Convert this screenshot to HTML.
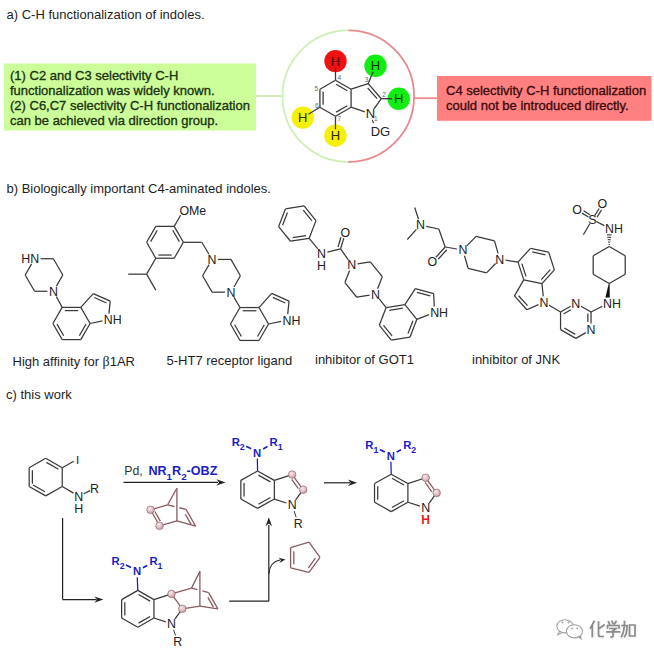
<!DOCTYPE html>
<html><head><meta charset="utf-8"><style>
html,body{margin:0;padding:0;background:#fff;width:654px;height:654px;overflow:hidden}
svg{display:block}
text{font-family:"Liberation Sans", sans-serif}
</style></head><body>
<svg width="654" height="654" viewBox="0 0 654 654">
<defs><radialGradient id="bg" cx="0.4" cy="0.35" r="0.7"><stop offset="0" stop-color="#f8eaec"/><stop offset="0.6" stop-color="#dcbcc0"/><stop offset="1" stop-color="#b89098"/></radialGradient></defs>
<rect width="654" height="654" fill="#fff"/>
<text x="6.50" y="18.80" font-size="13" fill="#1e1e1e" text-anchor="start" font-weight="normal" >a) C-H functionalization of indoles.</text>
<text x="6.50" y="192.50" font-size="13" fill="#1e1e1e" text-anchor="start" font-weight="normal" >b) Biologically important C4-aminated indoles.</text>
<text x="6.00" y="399.00" font-size="13" fill="#1e1e1e" text-anchor="start" font-weight="normal" >c) this work</text>
<rect x="4" y="63.5" width="252" height="67" fill="#ccff99"/>
<text x="10.00" y="80.00" font-size="13" fill="#1d3312" text-anchor="start" font-weight="normal" stroke="#1d3312" stroke-width="0.35">(1) C2 and C3 selectivity C-H</text>
<text x="10.00" y="95.00" font-size="13" fill="#1d3312" text-anchor="start" font-weight="normal" stroke="#1d3312" stroke-width="0.35">functionalization was widely known.</text>
<text x="10.00" y="110.00" font-size="13" fill="#1d3312" text-anchor="start" font-weight="normal" stroke="#1d3312" stroke-width="0.35">(2) C6,C7 selectivity C-H functionalization</text>
<text x="10.00" y="125.00" font-size="13" fill="#1d3312" text-anchor="start" font-weight="normal" stroke="#1d3312" stroke-width="0.35">can be achieved via direction group.</text>
<rect x="437" y="76" width="214.5" height="44.8" fill="#ff8080"/>
<text x="446.00" y="95.00" font-size="13" fill="#3d0c0c" text-anchor="start" font-weight="normal" stroke="#3d0c0c" stroke-width="0.35">C4 selectivity C-H functionalization</text>
<text x="446.00" y="110.00" font-size="13" fill="#3d0c0c" text-anchor="start" font-weight="normal" stroke="#3d0c0c" stroke-width="0.35">could not be introduced directly.</text>
<line x1="256.00" y1="96.00" x2="282.50" y2="96.00" stroke="#cdeeb4" stroke-width="1.8" />
<line x1="413.50" y1="98.20" x2="437.00" y2="98.20" stroke="#ec8a8c" stroke-width="1.8" />
<path d="M348.3,30.400000000000006 A65.8,65.8 0 0 0 348.3,162.0" fill="none" stroke="#cdeeb4" stroke-width="1.7"/>
<path d="M348.3,30.400000000000006 A65.8,65.8 0 0 1 348.3,162.0" fill="none" stroke="#e88a8e" stroke-width="1.8"/>
<line x1="335.50" y1="80.20" x2="351.09" y2="89.20" stroke="#3c3c3c" stroke-width="1.3" />
<line x1="351.09" y1="89.20" x2="351.09" y2="107.20" stroke="#3c3c3c" stroke-width="1.3" />
<line x1="351.09" y1="107.20" x2="335.50" y2="116.20" stroke="#3c3c3c" stroke-width="1.3" />
<line x1="335.50" y1="116.20" x2="319.91" y2="107.20" stroke="#3c3c3c" stroke-width="1.3" />
<line x1="319.91" y1="107.20" x2="319.91" y2="89.20" stroke="#3c3c3c" stroke-width="1.3" />
<line x1="319.91" y1="89.20" x2="335.50" y2="80.20" stroke="#3c3c3c" stroke-width="1.3" />
<line x1="336.08" y1="84.23" x2="347.31" y2="90.71" stroke="#3c3c3c" stroke-width="1.3" />
<line x1="323.11" y1="91.72" x2="323.11" y2="104.68" stroke="#3c3c3c" stroke-width="1.3" />
<line x1="336.08" y1="112.17" x2="347.31" y2="105.69" stroke="#3c3c3c" stroke-width="1.3" />
<line x1="351.09" y1="89.20" x2="368.21" y2="83.64" stroke="#3c3c3c" stroke-width="1.3" />
<line x1="368.21" y1="83.64" x2="381.29" y2="98.70" stroke="#3c3c3c" stroke-width="1.3" />
<line x1="367.62" y1="87.84" x2="377.04" y2="98.69" stroke="#3c3c3c" stroke-width="1.3" />
<line x1="381.29" y1="98.70" x2="374.00" y2="108.88" stroke="#3c3c3c" stroke-width="1.3" />
<line x1="351.09" y1="107.20" x2="364.82" y2="111.84" stroke="#3c3c3c" stroke-width="1.3" />
<circle cx="335.5" cy="61.1" r="11.2" fill="#f01212"/>
<line x1="335.50" y1="80.20" x2="335.50" y2="67.60" stroke="#3c3c3c" stroke-width="1.3" />
<text x="335.50" y="65.70" font-size="13" fill="#4a0000" text-anchor="middle" font-weight="normal" >H</text>
<circle cx="375.5" cy="65.8" r="11.2" fill="#12ee12"/>
<line x1="368.21" y1="83.64" x2="373.04" y2="71.82" stroke="#3c3c3c" stroke-width="1.3" />
<text x="375.50" y="70.40" font-size="13" fill="#063006" text-anchor="middle" font-weight="normal" >H</text>
<circle cx="398.7" cy="98.8" r="11.2" fill="#12ee12"/>
<line x1="381.29" y1="98.70" x2="392.20" y2="98.76" stroke="#3c3c3c" stroke-width="1.3" />
<text x="398.70" y="103.40" font-size="13" fill="#063006" text-anchor="middle" font-weight="normal" >H</text>
<circle cx="302.8" cy="117.6" r="11.2" fill="#f4f00a"/>
<line x1="319.91" y1="107.20" x2="308.35" y2="114.22" stroke="#3c3c3c" stroke-width="1.3" />
<text x="302.80" y="122.20" font-size="13" fill="#2a2a00" text-anchor="middle" font-weight="normal" >H</text>
<circle cx="335.4" cy="135.7" r="11.2" fill="#f4f00a"/>
<line x1="335.50" y1="116.20" x2="335.43" y2="129.20" stroke="#3c3c3c" stroke-width="1.3" />
<text x="335.40" y="140.30" font-size="13" fill="#2a2a00" text-anchor="middle" font-weight="normal" >H</text>
<text x="370.51" y="118.36" font-size="13" fill="#222" text-anchor="middle" font-weight="normal" >N</text>
<line x1="372.20" y1="120.00" x2="373.70" y2="123.20" stroke="#3c3c3c" stroke-width="1.1" />
<text x="380.40" y="136.40" font-size="13" fill="#222" text-anchor="middle" font-weight="normal" >DG</text>
<text x="339.20" y="79.60" font-size="6.5" fill="#666" text-anchor="middle" font-weight="normal" >4</text>
<text x="316.30" y="90.60" font-size="6.5" fill="#666" text-anchor="middle" font-weight="normal" >5</text>
<text x="316.70" y="107.60" font-size="6.5" fill="#666" text-anchor="middle" font-weight="normal" >6</text>
<text x="339.20" y="121.40" font-size="6.5" fill="#666" text-anchor="middle" font-weight="normal" >7</text>
<text x="366.50" y="82.30" font-size="6.5" fill="#666" text-anchor="middle" font-weight="normal" >3</text>
<text x="384.00" y="96.80" font-size="6.5" fill="#666" text-anchor="middle" font-weight="normal" >2</text>
<text x="375.90" y="120.50" font-size="6.5" fill="#666" text-anchor="middle" font-weight="normal" >1</text>
<line x1="62.20" y1="307.39" x2="80.80" y2="307.39" stroke="#3a3a3a" stroke-width="1.25" />
<line x1="80.80" y1="307.39" x2="90.10" y2="323.50" stroke="#3a3a3a" stroke-width="1.25" />
<line x1="90.10" y1="323.50" x2="80.80" y2="339.61" stroke="#3a3a3a" stroke-width="1.25" />
<line x1="80.80" y1="339.61" x2="62.20" y2="339.61" stroke="#3a3a3a" stroke-width="1.25" />
<line x1="62.20" y1="339.61" x2="52.90" y2="323.50" stroke="#3a3a3a" stroke-width="1.25" />
<line x1="52.90" y1="323.50" x2="62.20" y2="307.39" stroke="#3a3a3a" stroke-width="1.25" />
<line x1="64.80" y1="310.59" x2="78.20" y2="310.59" stroke="#3a3a3a" stroke-width="1.25" />
<line x1="56.97" y1="324.16" x2="63.67" y2="335.75" stroke="#3a3a3a" stroke-width="1.25" />
<line x1="79.33" y1="335.75" x2="86.03" y2="324.16" stroke="#3a3a3a" stroke-width="1.25" />
<line x1="80.80" y1="307.39" x2="93.25" y2="293.57" stroke="#3a3a3a" stroke-width="1.25" />
<line x1="93.25" y1="293.57" x2="110.24" y2="301.13" stroke="#3a3a3a" stroke-width="1.25" />
<line x1="94.32" y1="297.55" x2="106.56" y2="303.00" stroke="#3a3a3a" stroke-width="1.25" />
<line x1="110.24" y1="301.13" x2="108.92" y2="313.67" stroke="#3a3a3a" stroke-width="1.25" />
<line x1="90.10" y1="323.50" x2="102.42" y2="320.88" stroke="#3a3a3a" stroke-width="1.25" />
<text x="103.82" y="324.10" font-size="12.4" fill="#222" text-anchor="start" font-weight="normal" >N</text>
<text x="112.77" y="324.10" font-size="12.4" fill="#222" text-anchor="start" font-weight="normal" >H</text>
<line x1="62.80" y1="275.00" x2="56.40" y2="286.09" stroke="#3a3a3a" stroke-width="1.25" />
<line x1="47.40" y1="291.28" x2="34.60" y2="291.28" stroke="#3a3a3a" stroke-width="1.25" />
<line x1="34.60" y1="291.28" x2="25.20" y2="275.00" stroke="#3a3a3a" stroke-width="1.25" />
<line x1="25.20" y1="275.00" x2="31.60" y2="263.91" stroke="#3a3a3a" stroke-width="1.25" />
<line x1="40.60" y1="258.72" x2="53.40" y2="258.72" stroke="#3a3a3a" stroke-width="1.25" />
<line x1="53.40" y1="258.72" x2="62.80" y2="275.00" stroke="#3a3a3a" stroke-width="1.25" />
<text x="53.40" y="295.75" font-size="12.4" fill="#222" text-anchor="middle" font-weight="normal" >N</text>
<text x="39.08" y="263.18" font-size="12.4" fill="#222" text-anchor="end" font-weight="normal" >N</text>
<text x="30.12" y="263.18" font-size="12.4" fill="#222" text-anchor="end" font-weight="normal" >H</text>
<line x1="56.28" y1="296.55" x2="62.20" y2="307.39" stroke="#3a3a3a" stroke-width="1.25" />
<text x="12.50" y="366.30" font-size="13" fill="#1e1e1e" text-anchor="start" font-weight="normal" >High affinity for <tspan font-family="Liberation Serif" font-size="14">β</tspan>1AR</text>
<line x1="183.40" y1="242.30" x2="174.20" y2="258.23" stroke="#3a3a3a" stroke-width="1.25" />
<line x1="174.20" y1="258.23" x2="155.80" y2="258.23" stroke="#3a3a3a" stroke-width="1.25" />
<line x1="155.80" y1="258.23" x2="146.60" y2="242.30" stroke="#3a3a3a" stroke-width="1.25" />
<line x1="146.60" y1="242.30" x2="155.80" y2="226.37" stroke="#3a3a3a" stroke-width="1.25" />
<line x1="155.80" y1="226.37" x2="174.20" y2="226.37" stroke="#3a3a3a" stroke-width="1.25" />
<line x1="174.20" y1="226.37" x2="183.40" y2="242.30" stroke="#3a3a3a" stroke-width="1.25" />
<line x1="150.66" y1="241.67" x2="157.28" y2="230.20" stroke="#3a3a3a" stroke-width="1.25" />
<line x1="172.72" y1="230.20" x2="179.34" y2="241.67" stroke="#3a3a3a" stroke-width="1.25" />
<line x1="171.62" y1="255.03" x2="158.38" y2="255.03" stroke="#3a3a3a" stroke-width="1.25" />
<line x1="174.20" y1="226.37" x2="180.65" y2="215.19" stroke="#3a3a3a" stroke-width="1.25" />
<text x="179.40" y="215.43" font-size="12.4" fill="#222" text-anchor="start" font-weight="normal" >OMe</text>
<line x1="183.40" y1="242.30" x2="201.80" y2="242.30" stroke="#3a3a3a" stroke-width="1.25" />
<line x1="201.80" y1="242.30" x2="208.97" y2="254.28" stroke="#3a3a3a" stroke-width="1.25" />
<line x1="240.40" y1="275.80" x2="233.95" y2="286.97" stroke="#3a3a3a" stroke-width="1.25" />
<line x1="224.95" y1="292.17" x2="212.05" y2="292.17" stroke="#3a3a3a" stroke-width="1.25" />
<line x1="212.05" y1="292.17" x2="202.60" y2="275.80" stroke="#3a3a3a" stroke-width="1.25" />
<line x1="202.60" y1="275.80" x2="209.05" y2="264.63" stroke="#3a3a3a" stroke-width="1.25" />
<line x1="218.05" y1="259.43" x2="230.95" y2="259.43" stroke="#3a3a3a" stroke-width="1.25" />
<line x1="230.95" y1="259.43" x2="240.40" y2="275.80" stroke="#3a3a3a" stroke-width="1.25" />
<text x="212.05" y="263.90" font-size="12.4" fill="#222" text-anchor="middle" font-weight="normal" >N</text>
<text x="230.95" y="296.63" font-size="12.4" fill="#222" text-anchor="middle" font-weight="normal" >N</text>
<line x1="240.00" y1="307.55" x2="259.00" y2="307.55" stroke="#3a3a3a" stroke-width="1.25" />
<line x1="259.00" y1="307.55" x2="268.50" y2="324.00" stroke="#3a3a3a" stroke-width="1.25" />
<line x1="268.50" y1="324.00" x2="259.00" y2="340.45" stroke="#3a3a3a" stroke-width="1.25" />
<line x1="259.00" y1="340.45" x2="240.00" y2="340.45" stroke="#3a3a3a" stroke-width="1.25" />
<line x1="240.00" y1="340.45" x2="230.50" y2="324.00" stroke="#3a3a3a" stroke-width="1.25" />
<line x1="230.50" y1="324.00" x2="240.00" y2="307.55" stroke="#3a3a3a" stroke-width="1.25" />
<line x1="242.66" y1="310.75" x2="256.34" y2="310.75" stroke="#3a3a3a" stroke-width="1.25" />
<line x1="234.60" y1="324.70" x2="241.44" y2="336.55" stroke="#3a3a3a" stroke-width="1.25" />
<line x1="257.56" y1="336.55" x2="264.40" y2="324.70" stroke="#3a3a3a" stroke-width="1.25" />
<line x1="259.00" y1="307.55" x2="271.71" y2="293.43" stroke="#3a3a3a" stroke-width="1.25" />
<line x1="271.71" y1="293.43" x2="289.07" y2="301.15" stroke="#3a3a3a" stroke-width="1.25" />
<line x1="272.84" y1="297.43" x2="285.34" y2="303.00" stroke="#3a3a3a" stroke-width="1.25" />
<line x1="289.07" y1="301.15" x2="287.71" y2="314.08" stroke="#3a3a3a" stroke-width="1.25" />
<line x1="268.50" y1="324.00" x2="281.22" y2="321.30" stroke="#3a3a3a" stroke-width="1.25" />
<text x="282.61" y="324.51" font-size="12.4" fill="#222" text-anchor="start" font-weight="normal" >N</text>
<text x="291.56" y="324.51" font-size="12.4" fill="#222" text-anchor="start" font-weight="normal" >H</text>
<line x1="233.99" y1="297.34" x2="240.00" y2="307.55" stroke="#3a3a3a" stroke-width="1.25" />
<line x1="155.80" y1="258.23" x2="146.60" y2="274.17" stroke="#3a3a3a" stroke-width="1.25" />
<line x1="146.60" y1="274.17" x2="128.20" y2="274.17" stroke="#3a3a3a" stroke-width="1.25" />
<line x1="146.60" y1="274.17" x2="155.80" y2="290.10" stroke="#3a3a3a" stroke-width="1.25" />
<text x="166.50" y="364.80" font-size="13" fill="#1e1e1e" text-anchor="start" font-weight="normal" >5-HT7 receptor ligand</text>
<line x1="315.97" y1="220.64" x2="309.19" y2="238.29" stroke="#3a3a3a" stroke-width="1.25" />
<line x1="309.19" y1="238.29" x2="290.53" y2="241.24" stroke="#3a3a3a" stroke-width="1.25" />
<line x1="290.53" y1="241.24" x2="278.63" y2="226.56" stroke="#3a3a3a" stroke-width="1.25" />
<line x1="278.63" y1="226.56" x2="285.41" y2="208.91" stroke="#3a3a3a" stroke-width="1.25" />
<line x1="285.41" y1="208.91" x2="304.07" y2="205.96" stroke="#3a3a3a" stroke-width="1.25" />
<line x1="304.07" y1="205.96" x2="315.97" y2="220.64" stroke="#3a3a3a" stroke-width="1.25" />
<line x1="282.57" y1="225.23" x2="287.45" y2="212.53" stroke="#3a3a3a" stroke-width="1.25" />
<line x1="303.25" y1="210.03" x2="311.82" y2="220.60" stroke="#3a3a3a" stroke-width="1.25" />
<line x1="306.08" y1="235.54" x2="292.64" y2="237.67" stroke="#3a3a3a" stroke-width="1.25" />
<line x1="309.19" y1="238.29" x2="317.82" y2="248.94" stroke="#3a3a3a" stroke-width="1.25" />
<text x="321.60" y="258.06" font-size="12.4" fill="#222" text-anchor="middle" font-weight="normal" >N</text>
<text x="321.60" y="269.56" font-size="12.4" fill="#222" text-anchor="middle" font-weight="normal" >H</text>
<line x1="327.42" y1="252.13" x2="340.60" y2="248.80" stroke="#3a3a3a" stroke-width="1.25" />
<line x1="340.60" y1="248.80" x2="343.82" y2="238.07" stroke="#3a3a3a" stroke-width="1.25" />
<line x1="338.01" y1="246.98" x2="340.95" y2="237.21" stroke="#3a3a3a" stroke-width="1.25" />
<text x="345.40" y="237.26" font-size="12.4" fill="#222" text-anchor="middle" font-weight="normal" >O</text>
<line x1="340.60" y1="248.80" x2="348.30" y2="259.97" stroke="#3a3a3a" stroke-width="1.25" />
<line x1="382.27" y1="276.64" x2="377.64" y2="288.69" stroke="#3a3a3a" stroke-width="1.25" />
<line x1="369.57" y1="295.23" x2="356.83" y2="297.24" stroke="#3a3a3a" stroke-width="1.25" />
<line x1="356.83" y1="297.24" x2="344.93" y2="282.56" stroke="#3a3a3a" stroke-width="1.25" />
<line x1="344.93" y1="282.56" x2="349.56" y2="270.51" stroke="#3a3a3a" stroke-width="1.25" />
<line x1="357.63" y1="263.97" x2="370.37" y2="261.96" stroke="#3a3a3a" stroke-width="1.25" />
<line x1="370.37" y1="261.96" x2="382.27" y2="276.64" stroke="#3a3a3a" stroke-width="1.25" />
<text x="351.71" y="269.38" font-size="12.4" fill="#222" text-anchor="middle" font-weight="normal" >N</text>
<text x="375.49" y="298.75" font-size="12.4" fill="#222" text-anchor="middle" font-weight="normal" >N</text>
<line x1="386.14" y1="307.53" x2="404.91" y2="304.56" stroke="#3a3a3a" stroke-width="1.25" />
<line x1="404.91" y1="304.56" x2="416.87" y2="319.33" stroke="#3a3a3a" stroke-width="1.25" />
<line x1="416.87" y1="319.33" x2="410.06" y2="337.07" stroke="#3a3a3a" stroke-width="1.25" />
<line x1="410.06" y1="337.07" x2="391.29" y2="340.04" stroke="#3a3a3a" stroke-width="1.25" />
<line x1="391.29" y1="340.04" x2="379.33" y2="325.27" stroke="#3a3a3a" stroke-width="1.25" />
<line x1="379.33" y1="325.27" x2="386.14" y2="307.53" stroke="#3a3a3a" stroke-width="1.25" />
<line x1="389.27" y1="310.28" x2="402.78" y2="308.14" stroke="#3a3a3a" stroke-width="1.25" />
<line x1="383.49" y1="325.33" x2="392.10" y2="335.96" stroke="#3a3a3a" stroke-width="1.25" />
<line x1="408.02" y1="333.44" x2="412.93" y2="320.66" stroke="#3a3a3a" stroke-width="1.25" />
<line x1="404.91" y1="304.56" x2="415.26" y2="288.63" stroke="#3a3a3a" stroke-width="1.25" />
<line x1="415.26" y1="288.63" x2="433.61" y2="293.54" stroke="#3a3a3a" stroke-width="1.25" />
<line x1="417.00" y1="292.41" x2="430.21" y2="295.95" stroke="#3a3a3a" stroke-width="1.25" />
<line x1="433.61" y1="293.54" x2="434.29" y2="306.53" stroke="#3a3a3a" stroke-width="1.25" />
<line x1="416.87" y1="319.33" x2="429.00" y2="314.67" stroke="#3a3a3a" stroke-width="1.25" />
<text x="430.13" y="316.98" font-size="12.4" fill="#222" text-anchor="start" font-weight="normal" >N</text>
<text x="439.08" y="316.98" font-size="12.4" fill="#222" text-anchor="start" font-weight="normal" >H</text>
<line x1="379.25" y1="298.96" x2="386.14" y2="307.53" stroke="#3a3a3a" stroke-width="1.25" />
<text x="315.00" y="364.40" font-size="13" fill="#1e1e1e" text-anchor="start" font-weight="normal" >inhibitor of GOT1</text>
<line x1="418.54" y1="219.29" x2="414.70" y2="207.50" stroke="#3a3a3a" stroke-width="1.25" />
<line x1="416.38" y1="229.45" x2="407.30" y2="239.50" stroke="#3a3a3a" stroke-width="1.25" />
<text x="420.40" y="229.46" font-size="12.4" fill="#222" text-anchor="middle" font-weight="normal" >N</text>
<line x1="426.26" y1="226.27" x2="438.80" y2="229.00" stroke="#3a3a3a" stroke-width="1.25" />
<line x1="438.80" y1="229.00" x2="445.20" y2="247.00" stroke="#3a3a3a" stroke-width="1.25" />
<line x1="445.20" y1="247.00" x2="435.98" y2="257.22" stroke="#3a3a3a" stroke-width="1.25" />
<line x1="446.76" y1="249.75" x2="438.21" y2="259.23" stroke="#3a3a3a" stroke-width="1.25" />
<text x="432.30" y="265.76" font-size="12.4" fill="#222" text-anchor="middle" font-weight="normal" >O</text>
<line x1="495.57" y1="263.51" x2="486.54" y2="272.86" stroke="#3a3a3a" stroke-width="1.25" />
<line x1="486.54" y1="272.86" x2="468.10" y2="268.27" stroke="#3a3a3a" stroke-width="1.25" />
<line x1="468.10" y1="268.27" x2="464.52" y2="255.77" stroke="#3a3a3a" stroke-width="1.25" />
<line x1="467.03" y1="245.69" x2="476.06" y2="236.34" stroke="#3a3a3a" stroke-width="1.25" />
<line x1="476.06" y1="236.34" x2="494.50" y2="240.93" stroke="#3a3a3a" stroke-width="1.25" />
<line x1="494.50" y1="240.93" x2="498.08" y2="253.43" stroke="#3a3a3a" stroke-width="1.25" />
<text x="499.74" y="263.66" font-size="12.4" fill="#222" text-anchor="middle" font-weight="normal" >N</text>
<text x="462.86" y="254.47" font-size="12.4" fill="#222" text-anchor="middle" font-weight="normal" >N</text>
<line x1="445.20" y1="247.00" x2="456.95" y2="249.00" stroke="#3a3a3a" stroke-width="1.25" />
<line x1="554.39" y1="269.87" x2="541.95" y2="283.69" stroke="#3a3a3a" stroke-width="1.25" />
<line x1="541.95" y1="283.69" x2="523.75" y2="279.82" stroke="#3a3a3a" stroke-width="1.25" />
<line x1="523.75" y1="279.82" x2="518.01" y2="262.13" stroke="#3a3a3a" stroke-width="1.25" />
<line x1="518.01" y1="262.13" x2="530.45" y2="248.31" stroke="#3a3a3a" stroke-width="1.25" />
<line x1="530.45" y1="248.31" x2="548.65" y2="252.18" stroke="#3a3a3a" stroke-width="1.25" />
<line x1="548.65" y1="252.18" x2="554.39" y2="269.87" stroke="#3a3a3a" stroke-width="1.25" />
<line x1="532.33" y1="251.98" x2="545.43" y2="254.77" stroke="#3a3a3a" stroke-width="1.25" />
<line x1="550.27" y1="269.66" x2="541.31" y2="279.61" stroke="#3a3a3a" stroke-width="1.25" />
<line x1="525.99" y1="276.36" x2="521.85" y2="263.62" stroke="#3a3a3a" stroke-width="1.25" />
<line x1="523.75" y1="279.82" x2="514.45" y2="295.93" stroke="#3a3a3a" stroke-width="1.25" />
<line x1="514.45" y1="295.93" x2="526.90" y2="309.75" stroke="#3a3a3a" stroke-width="1.25" />
<line x1="518.57" y1="295.72" x2="527.54" y2="305.68" stroke="#3a3a3a" stroke-width="1.25" />
<line x1="526.90" y1="309.75" x2="538.41" y2="304.63" stroke="#3a3a3a" stroke-width="1.25" />
<line x1="541.95" y1="283.69" x2="543.26" y2="296.22" stroke="#3a3a3a" stroke-width="1.25" />
<text x="543.89" y="306.65" font-size="12.4" fill="#222" text-anchor="middle" font-weight="normal" >N</text>
<line x1="505.66" y1="260.15" x2="518.01" y2="262.13" stroke="#3a3a3a" stroke-width="1.25" />
<line x1="581.00" y1="306.20" x2="591.04" y2="312.00" stroke="#3a3a3a" stroke-width="1.25" />
<line x1="591.04" y1="312.00" x2="591.04" y2="323.60" stroke="#3a3a3a" stroke-width="1.25" />
<line x1="585.85" y1="332.60" x2="575.80" y2="338.40" stroke="#3a3a3a" stroke-width="1.25" />
<line x1="575.80" y1="338.40" x2="560.56" y2="329.60" stroke="#3a3a3a" stroke-width="1.25" />
<line x1="560.56" y1="329.60" x2="560.56" y2="312.00" stroke="#3a3a3a" stroke-width="1.25" />
<line x1="560.56" y1="312.00" x2="570.60" y2="306.20" stroke="#3a3a3a" stroke-width="1.25" />
<line x1="563.56" y1="313.96" x2="570.80" y2="309.78" stroke="#3a3a3a" stroke-width="1.25" />
<line x1="587.84" y1="313.62" x2="587.84" y2="321.98" stroke="#3a3a3a" stroke-width="1.25" />
<line x1="575.27" y1="334.40" x2="564.29" y2="328.06" stroke="#3a3a3a" stroke-width="1.25" />
<text x="575.80" y="307.66" font-size="12.4" fill="#222" text-anchor="middle" font-weight="normal" >N</text>
<text x="591.04" y="334.06" font-size="12.4" fill="#222" text-anchor="middle" font-weight="normal" >N</text>
<line x1="549.06" y1="305.23" x2="560.56" y2="312.00" stroke="#3a3a3a" stroke-width="1.25" />
<line x1="591.04" y1="312.00" x2="602.26" y2="306.24" stroke="#3a3a3a" stroke-width="1.25" />
<text x="603.12" y="307.96" font-size="12.4" fill="#222" text-anchor="start" font-weight="normal" >N</text>
<text x="612.08" y="307.96" font-size="12.4" fill="#222" text-anchor="start" font-weight="normal" >H</text>
<line x1="609.20" y1="246.50" x2="625.22" y2="255.75" stroke="#3a3a3a" stroke-width="1.25" />
<line x1="625.22" y1="255.75" x2="625.22" y2="274.25" stroke="#3a3a3a" stroke-width="1.25" />
<line x1="625.22" y1="274.25" x2="609.20" y2="283.50" stroke="#3a3a3a" stroke-width="1.25" />
<line x1="609.20" y1="283.50" x2="593.18" y2="274.25" stroke="#3a3a3a" stroke-width="1.25" />
<line x1="593.18" y1="274.25" x2="593.18" y2="255.75" stroke="#3a3a3a" stroke-width="1.25" />
<line x1="593.18" y1="255.75" x2="609.20" y2="246.50" stroke="#3a3a3a" stroke-width="1.25" />
<polygon points="608.8000000000001,283.5 609.6,283.5 609.8000000000001,297.5 605.4,297.5" fill="#111"/>
<line x1="608.60" y1="244.50" x2="609.80" y2="244.50" stroke="#222" stroke-width="1.0" />
<line x1="608.15" y1="242.10" x2="610.25" y2="242.10" stroke="#222" stroke-width="1.0" />
<line x1="607.70" y1="239.70" x2="610.70" y2="239.70" stroke="#222" stroke-width="1.0" />
<line x1="607.25" y1="237.30" x2="611.15" y2="237.30" stroke="#222" stroke-width="1.0" />
<line x1="606.80" y1="234.90" x2="611.60" y2="234.90" stroke="#222" stroke-width="1.0" />
<text x="605.12" y="232.86" font-size="12.4" fill="#222" text-anchor="start" font-weight="normal" >N</text>
<text x="614.08" y="232.86" font-size="12.4" fill="#222" text-anchor="start" font-weight="normal" >H</text>
<line x1="604.28" y1="225.63" x2="596.29" y2="221.48" stroke="#3a3a3a" stroke-width="1.25" />
<text x="592.30" y="223.86" font-size="12.4" fill="#222" text-anchor="middle" font-weight="normal" >S</text>
<line x1="594.68" y1="215.58" x2="599.12" y2="208.49" stroke="#3a3a3a" stroke-width="1.25" />
<line x1="597.06" y1="217.07" x2="601.49" y2="209.97" stroke="#3a3a3a" stroke-width="1.25" />
<line x1="588.47" y1="217.04" x2="582.11" y2="213.14" stroke="#3a3a3a" stroke-width="1.25" />
<line x1="589.93" y1="214.66" x2="583.58" y2="210.76" stroke="#3a3a3a" stroke-width="1.25" />
<text x="602.30" y="207.86" font-size="12.4" fill="#222" text-anchor="middle" font-weight="normal" >O</text>
<text x="577.00" y="214.46" font-size="12.4" fill="#222" text-anchor="middle" font-weight="normal" >O</text>
<line x1="589.80" y1="223.73" x2="583.40" y2="234.80" stroke="#3a3a3a" stroke-width="1.25" />
<text x="472.00" y="364.40" font-size="13" fill="#1e1e1e" text-anchor="start" font-weight="normal" >inhibitor of JNK</text>
<line x1="45.70" y1="458.30" x2="62.23" y2="467.70" stroke="#3a3a3a" stroke-width="1.25" />
<line x1="62.23" y1="467.70" x2="62.23" y2="486.50" stroke="#3a3a3a" stroke-width="1.25" />
<line x1="62.23" y1="486.50" x2="45.70" y2="495.90" stroke="#3a3a3a" stroke-width="1.25" />
<line x1="45.70" y1="495.90" x2="29.17" y2="486.50" stroke="#3a3a3a" stroke-width="1.25" />
<line x1="29.17" y1="486.50" x2="29.17" y2="467.70" stroke="#3a3a3a" stroke-width="1.25" />
<line x1="29.17" y1="467.70" x2="45.70" y2="458.30" stroke="#3a3a3a" stroke-width="1.25" />
<line x1="46.43" y1="462.40" x2="58.33" y2="469.17" stroke="#3a3a3a" stroke-width="1.25" />
<line x1="32.37" y1="483.87" x2="32.37" y2="470.33" stroke="#3a3a3a" stroke-width="1.25" />
<line x1="44.97" y1="491.80" x2="33.07" y2="485.03" stroke="#3a3a3a" stroke-width="1.25" />
<line x1="62.23" y1="467.70" x2="73.74" y2="461.29" stroke="#3a3a3a" stroke-width="1.25" />
<text x="77.50" y="463.60" font-size="11.5" fill="#222" text-anchor="middle" font-weight="normal" >I</text>
<line x1="62.23" y1="486.50" x2="73.53" y2="493.16" stroke="#3a3a3a" stroke-width="1.25" />
<text x="78.70" y="500.66" font-size="12.4" fill="#222" text-anchor="middle" font-weight="normal" >N</text>
<text x="78.70" y="512.66" font-size="12.4" fill="#222" text-anchor="middle" font-weight="normal" >H</text>
<line x1="83.65" y1="493.80" x2="90.10" y2="490.68" stroke="#3a3a3a" stroke-width="1.25" />
<text x="94.60" y="492.96" font-size="12.4" fill="#222" text-anchor="middle" font-weight="normal" >R</text>
<line x1="123.50" y1="482.40" x2="218.00" y2="482.40" stroke="#222" stroke-width="1.2" />
<polygon points="225.50,482.40 216.50,485.60 219.20,482.40 216.50,479.20" fill="#222"/>
<text x="124.30" y="475.40" font-size="12.3" fill="#333" text-anchor="start" font-weight="normal" >Pd,</text>
<text x="148.40" y="475.40" font-size="12.6" fill="#1c1cc8" font-weight="bold"><tspan>NR</tspan><tspan font-size="9.8" dy="4.2">1</tspan><tspan dy="-4.2">R</tspan><tspan font-size="9.8" dy="4.2">2</tspan><tspan dy="-4.2">-OBZ</tspan></text>
<line x1="176.90" y1="488.30" x2="167.60" y2="504.80" stroke="#8a5a60" stroke-width="1.3" />
<line x1="176.90" y1="488.30" x2="176.90" y2="520.90" stroke="#8a5a60" stroke-width="1.3" />
<line x1="167.60" y1="504.80" x2="150.50" y2="509.80" stroke="#8a5a60" stroke-width="1.3" />
<line x1="150.50" y1="509.80" x2="159.50" y2="525.80" stroke="#8a5a60" stroke-width="1.3" />
<line x1="154.91" y1="511.53" x2="160.31" y2="521.13" stroke="#8a5a60" stroke-width="1.3" />
<line x1="159.50" y1="525.80" x2="176.90" y2="520.90" stroke="#8a5a60" stroke-width="1.3" />
<line x1="176.90" y1="520.90" x2="195.70" y2="526.20" stroke="#8a5a60" stroke-width="1.3" />
<line x1="186.00" y1="509.40" x2="195.70" y2="526.20" stroke="#8a5a60" stroke-width="1.3" />
<line x1="185.34" y1="514.26" x2="191.16" y2="524.34" stroke="#8a5a60" stroke-width="1.3" />
<line x1="167.60" y1="504.80" x2="174.40" y2="506.50" stroke="#8a5a60" stroke-width="1.3" />
<line x1="179.40" y1="507.75" x2="186.00" y2="509.40" stroke="#8a5a60" stroke-width="1.3" />
<circle cx="150.50" cy="509.80" r="3.8" fill="url(#bg)" stroke="#9a6c72" stroke-width="0.7"/>
<circle cx="159.50" cy="525.80" r="3.8" fill="url(#bg)" stroke="#9a6c72" stroke-width="0.7"/>
<line x1="257.60" y1="471.00" x2="274.36" y2="480.35" stroke="#3a3a3a" stroke-width="1.25" />
<line x1="274.36" y1="480.35" x2="274.36" y2="499.05" stroke="#3a3a3a" stroke-width="1.25" />
<line x1="274.36" y1="499.05" x2="257.60" y2="508.40" stroke="#3a3a3a" stroke-width="1.25" />
<line x1="257.60" y1="508.40" x2="240.84" y2="499.05" stroke="#3a3a3a" stroke-width="1.25" />
<line x1="240.84" y1="499.05" x2="240.84" y2="480.35" stroke="#3a3a3a" stroke-width="1.25" />
<line x1="240.84" y1="480.35" x2="257.60" y2="471.00" stroke="#3a3a3a" stroke-width="1.25" />
<line x1="258.39" y1="475.10" x2="270.46" y2="481.84" stroke="#3a3a3a" stroke-width="1.25" />
<line x1="244.04" y1="496.43" x2="244.04" y2="482.97" stroke="#3a3a3a" stroke-width="1.25" />
<line x1="270.46" y1="497.56" x2="258.39" y2="504.30" stroke="#3a3a3a" stroke-width="1.25" />
<line x1="274.36" y1="480.35" x2="292.15" y2="474.57" stroke="#3a3a3a" stroke-width="1.25" />
<line x1="292.15" y1="474.57" x2="303.14" y2="489.70" stroke="#8a5a60" stroke-width="1.25" />
<line x1="291.76" y1="479.48" x2="298.35" y2="488.56" stroke="#8a5a60" stroke-width="1.25" />
<line x1="303.14" y1="489.70" x2="295.67" y2="499.97" stroke="#3a3a3a" stroke-width="1.25" />
<line x1="274.36" y1="499.05" x2="286.44" y2="502.97" stroke="#3a3a3a" stroke-width="1.25" />
<circle cx="292.15" cy="474.57" r="3.8" fill="url(#bg)" stroke="#9a6c72" stroke-width="0.7"/>
<circle cx="303.14" cy="489.70" r="3.8" fill="url(#bg)" stroke="#9a6c72" stroke-width="0.7"/>
<text x="292.15" y="509.29" font-size="12.4" fill="#222" text-anchor="middle" font-weight="normal" >N</text>
<line x1="294.13" y1="511.02" x2="296.16" y2="517.34" stroke="#3a3a3a" stroke-width="1.0" />
<text x="298.15" y="527.99" font-size="12.4" fill="#222" text-anchor="middle" font-weight="normal" >R</text>
<line x1="257.60" y1="471.00" x2="257.33" y2="458.50" stroke="#1c1cc8" stroke-width="1.25" />
<text x="257.20" y="456.57" font-size="11.3" fill="#1c1cc8" text-anchor="middle" font-weight="bold" >N</text>
<text x="231.70" y="446.20" font-size="11.3" fill="#1c1cc8" font-weight="bold"><tspan>R</tspan><tspan font-size="8.8" dy="3.7">2</tspan></text>
<text x="269.60" y="446.20" font-size="11.3" fill="#1c1cc8" font-weight="bold"><tspan>R</tspan><tspan font-size="8.8" dy="3.7">1</tspan></text>
<line x1="246.20" y1="446.20" x2="251.20" y2="448.70" stroke="#1c1cc8" stroke-width="1.7" />
<line x1="263.10" y1="448.90" x2="267.40" y2="446.60" stroke="#1c1cc8" stroke-width="1.7" />
<line x1="324.00" y1="482.80" x2="350.00" y2="482.80" stroke="#222" stroke-width="1.2" />
<polygon points="357.00,482.80 348.00,486.00 350.70,482.80 348.00,479.60" fill="#222"/>
<line x1="391.20" y1="474.20" x2="407.88" y2="483.55" stroke="#3a3a3a" stroke-width="1.25" />
<line x1="407.88" y1="483.55" x2="407.88" y2="502.25" stroke="#3a3a3a" stroke-width="1.25" />
<line x1="407.88" y1="502.25" x2="391.20" y2="511.60" stroke="#3a3a3a" stroke-width="1.25" />
<line x1="391.20" y1="511.60" x2="374.52" y2="502.25" stroke="#3a3a3a" stroke-width="1.25" />
<line x1="374.52" y1="502.25" x2="374.52" y2="483.55" stroke="#3a3a3a" stroke-width="1.25" />
<line x1="374.52" y1="483.55" x2="391.20" y2="474.20" stroke="#3a3a3a" stroke-width="1.25" />
<line x1="391.97" y1="478.30" x2="403.98" y2="485.03" stroke="#3a3a3a" stroke-width="1.25" />
<line x1="377.72" y1="499.63" x2="377.72" y2="486.17" stroke="#3a3a3a" stroke-width="1.25" />
<line x1="403.98" y1="500.77" x2="391.97" y2="507.50" stroke="#3a3a3a" stroke-width="1.25" />
<line x1="407.88" y1="483.55" x2="425.67" y2="477.77" stroke="#3a3a3a" stroke-width="1.25" />
<line x1="425.67" y1="477.77" x2="436.66" y2="492.90" stroke="#8a5a60" stroke-width="1.25" />
<line x1="425.27" y1="482.68" x2="431.87" y2="491.76" stroke="#8a5a60" stroke-width="1.25" />
<line x1="436.66" y1="492.90" x2="429.19" y2="503.17" stroke="#3a3a3a" stroke-width="1.25" />
<line x1="407.88" y1="502.25" x2="419.96" y2="506.17" stroke="#3a3a3a" stroke-width="1.25" />
<circle cx="425.67" cy="477.77" r="3.8" fill="url(#bg)" stroke="#9a6c72" stroke-width="0.7"/>
<circle cx="436.66" cy="492.90" r="3.8" fill="url(#bg)" stroke="#9a6c72" stroke-width="0.7"/>
<text x="425.67" y="512.49" font-size="12.4" fill="#222" text-anchor="middle" font-weight="normal" >N</text>
<text x="425.67" y="523.63" font-size="12" fill="#e02020" text-anchor="middle" font-weight="bold" >H</text>
<line x1="391.20" y1="474.20" x2="390.93" y2="461.70" stroke="#1c1cc8" stroke-width="1.25" />
<text x="390.80" y="459.77" font-size="11.3" fill="#1c1cc8" text-anchor="middle" font-weight="bold" >N</text>
<text x="365.30" y="449.40" font-size="11.3" fill="#1c1cc8" font-weight="bold"><tspan>R</tspan><tspan font-size="8.8" dy="3.7">1</tspan></text>
<text x="403.20" y="449.40" font-size="11.3" fill="#1c1cc8" font-weight="bold"><tspan>R</tspan><tspan font-size="8.8" dy="3.7">2</tspan></text>
<line x1="379.80" y1="449.40" x2="384.80" y2="451.90" stroke="#1c1cc8" stroke-width="1.7" />
<line x1="396.70" y1="452.10" x2="401.00" y2="449.80" stroke="#1c1cc8" stroke-width="1.7" />
<line x1="62.60" y1="518.00" x2="62.60" y2="599.60" stroke="#222" stroke-width="1.2" />
<line x1="62.60" y1="599.60" x2="96.50" y2="599.60" stroke="#222" stroke-width="1.2" />
<polygon points="103.40,599.60 94.40,602.80 97.10,599.60 94.40,596.40" fill="#222"/>
<line x1="137.80" y1="590.40" x2="153.97" y2="599.60" stroke="#3a3a3a" stroke-width="1.25" />
<line x1="153.97" y1="599.60" x2="153.97" y2="618.00" stroke="#3a3a3a" stroke-width="1.25" />
<line x1="153.97" y1="618.00" x2="137.80" y2="627.20" stroke="#3a3a3a" stroke-width="1.25" />
<line x1="137.80" y1="627.20" x2="121.63" y2="618.00" stroke="#3a3a3a" stroke-width="1.25" />
<line x1="121.63" y1="618.00" x2="121.63" y2="599.60" stroke="#3a3a3a" stroke-width="1.25" />
<line x1="121.63" y1="599.60" x2="137.80" y2="590.40" stroke="#3a3a3a" stroke-width="1.25" />
<line x1="138.48" y1="594.47" x2="150.13" y2="601.09" stroke="#3a3a3a" stroke-width="1.25" />
<line x1="124.83" y1="615.42" x2="124.83" y2="602.18" stroke="#3a3a3a" stroke-width="1.25" />
<line x1="150.13" y1="616.51" x2="138.48" y2="623.13" stroke="#3a3a3a" stroke-width="1.25" />
<line x1="153.97" y1="599.60" x2="171.47" y2="593.91" stroke="#3a3a3a" stroke-width="1.25" />
<line x1="171.47" y1="593.91" x2="182.29" y2="608.80" stroke="#8a5a60" stroke-width="1.25" />
<line x1="182.29" y1="608.80" x2="175.00" y2="618.83" stroke="#3a3a3a" stroke-width="1.25" />
<line x1="153.97" y1="618.00" x2="165.77" y2="621.83" stroke="#3a3a3a" stroke-width="1.25" />
<text x="171.47" y="628.15" font-size="12.4" fill="#222" text-anchor="middle" font-weight="normal" >N</text>
<line x1="173.59" y1="629.83" x2="175.56" y2="635.54" stroke="#3a3a3a" stroke-width="1.0" />
<text x="177.67" y="646.15" font-size="12.4" fill="#222" text-anchor="middle" font-weight="normal" >R</text>
<line x1="137.80" y1="590.40" x2="137.25" y2="577.29" stroke="#1c1cc8" stroke-width="1.25" />
<text x="137.00" y="575.37" font-size="11.3" fill="#1c1cc8" text-anchor="middle" font-weight="bold" >N</text>
<text x="111.50" y="565.00" font-size="11.3" fill="#1c1cc8" font-weight="bold"><tspan>R</tspan><tspan font-size="8.8" dy="3.7">2</tspan></text>
<text x="149.40" y="565.00" font-size="11.3" fill="#1c1cc8" font-weight="bold"><tspan>R</tspan><tspan font-size="8.8" dy="3.7">1</tspan></text>
<line x1="126.00" y1="565.00" x2="131.00" y2="567.50" stroke="#1c1cc8" stroke-width="1.7" />
<line x1="142.90" y1="567.70" x2="147.20" y2="565.40" stroke="#1c1cc8" stroke-width="1.7" />
<line x1="171.47" y1="593.91" x2="191.50" y2="588.10" stroke="#8a5a60" stroke-width="1.3" />
<line x1="182.29" y1="608.80" x2="199.90" y2="606.10" stroke="#8a5a60" stroke-width="1.3" />
<line x1="191.50" y1="588.10" x2="199.90" y2="571.40" stroke="#8a5a60" stroke-width="1.3" />
<line x1="199.90" y1="571.40" x2="199.90" y2="606.10" stroke="#8a5a60" stroke-width="1.3" />
<line x1="208.60" y1="592.60" x2="217.90" y2="608.90" stroke="#8a5a60" stroke-width="1.3" />
<line x1="207.85" y1="597.35" x2="213.43" y2="607.13" stroke="#8a5a60" stroke-width="1.3" />
<line x1="199.90" y1="606.10" x2="217.90" y2="608.90" stroke="#8a5a60" stroke-width="1.3" />
<line x1="191.50" y1="588.10" x2="197.40" y2="589.65" stroke="#8a5a60" stroke-width="1.3" />
<line x1="202.40" y1="590.97" x2="208.60" y2="592.60" stroke="#8a5a60" stroke-width="1.3" />
<circle cx="171.47" cy="593.91" r="3.8" fill="url(#bg)" stroke="#9a6c72" stroke-width="0.7"/>
<circle cx="182.29" cy="608.80" r="3.8" fill="url(#bg)" stroke="#9a6c72" stroke-width="0.7"/>
<line x1="229.20" y1="601.20" x2="268.80" y2="601.20" stroke="#222" stroke-width="1.2" />
<line x1="268.80" y1="601.20" x2="268.80" y2="525.00" stroke="#222" stroke-width="1.2" />
<polygon points="268.80,517.30 272.00,526.30 268.80,523.60 265.60,526.30" fill="#222"/>
<path d="M268.8,574 C269.5,566 274,561 280,560" fill="none" stroke="#222" stroke-width="1.1"/>
<polygon points="285.50,559.60 279.36,562.96 280.98,560.14 278.74,557.79" fill="#222"/>
<line x1="290.60" y1="547.60" x2="309.00" y2="542.10" stroke="#8a5a60" stroke-width="1.3" />
<line x1="309.00" y1="542.10" x2="320.00" y2="557.30" stroke="#8a5a60" stroke-width="1.3" />
<line x1="320.00" y1="557.30" x2="309.00" y2="572.40" stroke="#8a5a60" stroke-width="1.3" />
<line x1="309.00" y1="572.40" x2="290.60" y2="567.80" stroke="#8a5a60" stroke-width="1.3" />
<line x1="290.60" y1="567.80" x2="290.60" y2="547.60" stroke="#8a5a60" stroke-width="1.3" />
<line x1="293.80" y1="564.16" x2="293.80" y2="551.24" stroke="#8a5a60" stroke-width="1.3" />
<line x1="315.43" y1="558.13" x2="308.39" y2="567.80" stroke="#8a5a60" stroke-width="1.3" />
<g stroke="#a0a0a0" stroke-width="1.1"><path d="M559.5,631.5 l-1.8,3.2 l4,-1.6" fill="#fff"/><ellipse cx="565.0" cy="626.3" rx="8.2" ry="6.6" fill="#fff"/><path d="M578.5,636.5 l2.6,2.2 l-0.6,-3" fill="#fff"/><ellipse cx="574.4" cy="631.3" rx="8.0" ry="6.6" fill="#fff"/></g><g fill="#a0a0a0"><circle cx="562.4" cy="622.6" r="1"/><circle cx="568.6" cy="622.6" r="1"/><circle cx="572.0" cy="628.4" r="0.9"/><circle cx="577.2" cy="628.4" r="0.9"/></g>
<path d="M594,621.5 l-3.5,6.5 M592.3,625.5 v11 M598.5,622 v12.5 q0,2 2,2 h2.5 M604,625 l-5.5,4 M608.5,622 l1,2 M612,621.3 l0.8,2 M616,621.5 l-1.5,2.2 M607.5,625.5 v2.5 M607.5,625.5 h11.5 v2.5 M610,628.5 h6 l-3,2.5 M607,631.8 h12.5 M613,630.5 v5.5 q0,1 -2,1 M622,625.5 h5 q0,9 -2.5,11 M624.5,621.5 q0,10 -3,15 M629.5,625 h5.5 v11 h-5.5 z" fill="none" stroke="#f4f4f4" stroke-width="3.4" stroke-linecap="square" transform="translate(0.6,0.6)"/>
<path d="M594,621.5 l-3.5,6.5 M592.3,625.5 v11 M598.5,622 v12.5 q0,2 2,2 h2.5 M604,625 l-5.5,4 M608.5,622 l1,2 M612,621.3 l0.8,2 M616,621.5 l-1.5,2.2 M607.5,625.5 v2.5 M607.5,625.5 h11.5 v2.5 M610,628.5 h6 l-3,2.5 M607,631.8 h12.5 M613,630.5 v5.5 q0,1 -2,1 M622,625.5 h5 q0,9 -2.5,11 M624.5,621.5 q0,10 -3,15 M629.5,625 h5.5 v11 h-5.5 z" fill="none" stroke="#8a8a8a" stroke-width="1.7" stroke-linecap="square"/>
</svg>
</body></html>
